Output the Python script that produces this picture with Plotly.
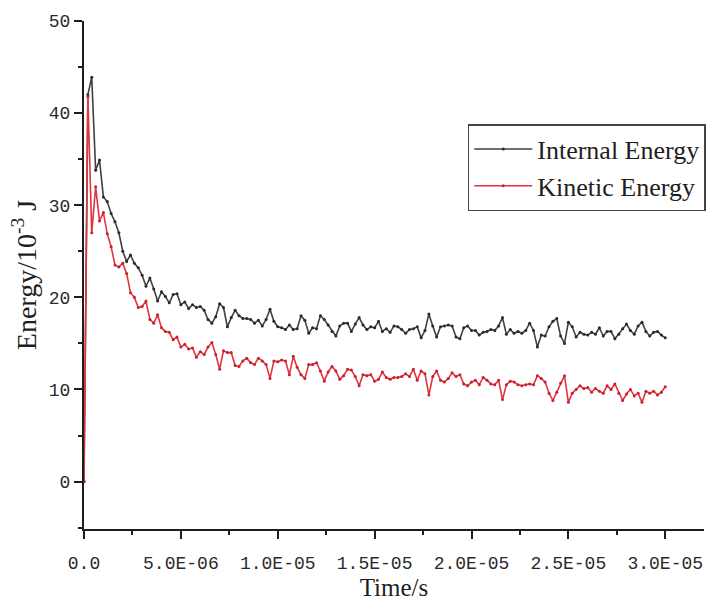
import numpy as np
import plotly.graph_objects as go

# Sampling interval of the simulation output (s)
dt = 2e-7

# Internal energy (10^-3 J) at each output step
internal_energy = [
    0.0, 42.0, 43.9, 33.8, 34.9, 30.9, 30.4, 29.1, 28.2, 27.0,
    25.0, 23.9, 24.6, 23.7, 23.2, 22.4, 21.2, 22.1, 20.9, 19.6,
    20.6, 20.1, 19.4, 20.3, 20.4, 19.2, 19.5, 18.8, 19.2, 18.9,
    19.0, 18.6, 17.6, 17.2, 17.9, 19.3, 18.9, 16.8, 17.8, 18.6,
    18.0, 17.7, 17.7, 17.6, 17.2, 17.5, 16.9, 17.6, 18.7, 17.4,
    16.8, 16.7, 16.5, 17.0, 16.5, 16.6, 18.0, 17.5, 16.1, 16.7,
    16.6, 18.0, 17.6, 17.0, 16.3, 15.8, 16.9, 17.2, 17.2, 16.3,
    17.1, 17.8, 17.0, 16.5, 16.8, 16.7, 17.4, 16.3, 16.6, 16.2,
    16.9, 16.8, 16.5, 16.1, 16.5, 16.6, 16.8, 15.6, 16.4, 18.2,
    16.9, 15.7, 16.8, 16.9, 17.0, 16.9, 15.7, 15.5, 16.7, 16.9,
    16.4, 16.4, 15.9, 16.2, 16.3, 16.5, 16.4, 16.9, 17.8, 16.0,
    16.5, 16.1, 16.3, 16.1, 16.4, 17.2, 16.4, 14.6, 15.9, 15.8,
    16.8, 17.4, 17.7, 15.8, 15.0, 17.3, 16.8, 15.7, 16.2, 16.0,
    15.9, 16.2, 16.0, 16.7, 15.8, 16.3, 16.3, 15.5, 16.0, 16.6,
    17.1, 16.4, 16.0, 16.9, 17.3, 16.3, 15.8, 16.2, 16.3, 15.9,
    15.6,
]

# Kinetic energy (10^-3 J) at each output step
kinetic_energy = [
    0.0, 41.8, 27.0, 32.0, 28.3, 29.2, 26.9, 25.5, 23.5, 23.3,
    23.7, 22.6, 20.5, 20.0, 18.9, 19.0, 19.6, 17.6, 17.2, 18.1,
    16.7, 16.3, 16.2, 15.4, 15.7, 14.6, 14.9, 14.4, 14.5, 13.5,
    14.1, 13.8, 14.6, 15.1, 13.8, 12.2, 14.2, 14.0, 14.0, 12.6,
    12.5, 13.1, 13.4, 12.9, 12.7, 13.4, 13.1, 12.7, 11.2, 13.1,
    13.0, 13.2, 13.1, 11.6, 13.6, 12.4, 11.6, 11.2, 12.7, 12.7,
    12.9, 12.0, 10.9, 11.9, 12.5, 12.0, 11.1, 11.5, 12.2, 12.1,
    11.4, 10.4, 11.6, 11.5, 11.6, 10.9, 11.1, 11.9, 11.3, 11.1,
    11.3, 11.3, 11.4, 11.7, 11.4, 12.2, 11.0, 12.0, 11.7, 9.4,
    11.4, 12.0, 11.0, 10.8, 11.2, 11.8, 11.4, 11.6, 10.6, 10.4,
    10.8, 11.0, 10.5, 11.3, 11.0, 10.6, 10.5, 11.0, 8.9, 10.5,
    10.9, 10.8, 10.5, 10.4, 10.5, 10.6, 10.5, 11.5, 11.2, 10.8,
    9.6, 8.8, 9.7, 10.7, 11.5, 8.6, 9.6, 10.0, 10.4, 10.1,
    10.2, 9.7, 10.1, 9.8, 9.6, 10.4, 10.0, 10.6, 9.6, 8.8,
    9.5, 10.0, 9.3, 9.6, 8.6, 9.8, 9.6, 9.8, 9.4, 9.7,
    10.3,
]

time_s = np.arange(len(internal_energy)) * dt

# Axis ticks
x_tickvals = [0, 5e-6, 1e-5, 1.5e-5, 2e-5, 2.5e-5, 3e-5]
x_ticktext = ["0.0", "5.0E-06", "1.0E-05", "1.5E-05", "2.0E-05", "2.5E-05", "3.0E-05"]
y_tickvals = [0, 10, 20, 30, 40, 50]

axis_color = "#1e1e1e"
tick_font = dict(family="Liberation Mono", size=18, color="#2a2a2a")

fig = go.Figure()
fig.add_trace(go.Scatter(
    x=time_s, y=internal_energy, name="Internal Energy",
    mode="lines+markers",
    line=dict(color="#404040", width=1.6),
    marker=dict(color="#2a2a2a", size=3),
))
fig.add_trace(go.Scatter(
    x=time_s, y=kinetic_energy, name="Kinetic Energy",
    mode="lines+markers",
    line=dict(color="#e0353f", width=1.6),
    marker=dict(color="#c8202c", size=3),
))

fig.update_layout(
    width=708, height=603,
    margin=dict(l=84, r=3, t=21, b=74),
    paper_bgcolor="white", plot_bgcolor="white",
    showlegend=True,
    legend=dict(
        x=0.618, y=0.797, xanchor="left", yanchor="top",
        bgcolor="white", bordercolor="#444444", borderwidth=1.5,
        font=dict(family="Liberation Serif", size=26, color="#1e1e1e"),
        itemwidth=58, tracegroupgap=0,
    ),
)

fig.update_xaxes(
    range=[0, 3.2e-5],
    tickmode="array", tickvals=x_tickvals, ticktext=x_ticktext,
    tickfont=tick_font, ticklabelstandoff=8,
    ticks="outside", ticklen=8, tickwidth=2, tickcolor=axis_color,
    minor=dict(tickmode="linear", tick0=0, dtick=2.5e-6, ticks="outside",
               ticklen=4, tickwidth=2, tickcolor=axis_color, showgrid=False),
    showline=True, linewidth=2, linecolor=axis_color,
    showgrid=False, zeroline=False,
    title=dict(text="Time/s",
               font=dict(family="Liberation Serif", size=25, color="#1e1e1e"),
               standoff=6),
)
fig.update_yaxes(
    range=[-5.15, 50],
    tickmode="array", tickvals=y_tickvals,
    tickfont=tick_font,
    ticks="outside", ticklen=8, tickwidth=2, tickcolor=axis_color,
    minor=dict(tickmode="linear", tick0=5, dtick=10, ticks="outside",
               ticklen=4, tickwidth=2, tickcolor=axis_color, showgrid=False),
    showline=True, linewidth=2, linecolor=axis_color,
    showgrid=False, zeroline=False,
    title=dict(text="Energy/10<sup>-3</sup> J",
               font=dict(family="Liberation Serif", size=28, color="#1e1e1e"),
               standoff=4),
)

fig.write_html("out.html")
